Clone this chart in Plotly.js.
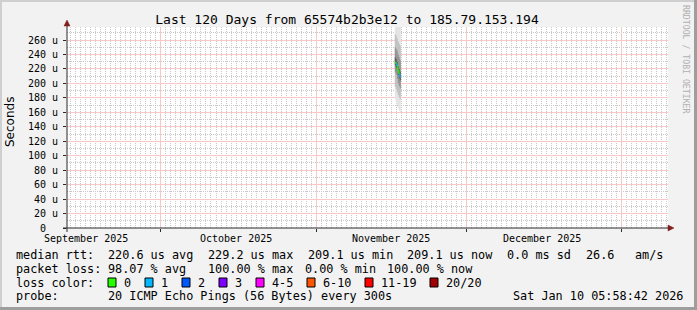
<!DOCTYPE html>
<html>
<head>
<meta charset="utf-8">
<script src="https://cdn.plot.ly/plotly-3.0.1.min.js"></script>
<style>
html,body{margin:0;padding:0;background:#f2f2f2;}
#chart{width:697px;height:310px;}
</style>
</head>
<body>
<div id="chart"></div>
<script>
// ---------------- data ----------------
const titleText = "Last 120 Days from 65574b2b3e12 to 185.79.153.194";
const rangeStart = "2025-09-12 05:58:42";
const rangeEnd = "2026-01-10 05:58:42";

const monthStarts = ["2025-10-01", "2025-11-01", "2025-12-01", "2026-01-01"];
const monthLabelDates = ["2025-09-16", "2025-10-16", "2025-11-16", "2025-12-16"];
const monthLabels = ["September 2025", "October 2025", "November 2025", "December 2025"];

const yTickVals = [0, 20, 40, 60, 80, 100, 120, 140, 160, 180, 200, 220, 240, 260];
const yTickText = ["0\u00a0\u00a0", "20 u", "40 u", "60 u", "80 u", "100 u", "120 u", "140 u", "160 u", "180 u", "200 u", "220 u", "240 u", "260 u"];

// sample edge times (last entry is the end of the last sample)
const sampleTimes = ["2025-11-16 16:48", "2025-11-16 21:36", "2025-11-17 02:24", "2025-11-17 07:12", "2025-11-17 12:00", "2025-11-17 16:48", "2025-11-17 21:36"];
// sorted ping values (microseconds) per sample
const pingMin = [178, 175, 170, 166, 162, 160];
const ping2   = [195, 192, 188, 184, 180, 178];
const ping5   = [215, 212, 206, 200, 196, 193];
const ping8   = [225, 222, 218, 212, 207, 204];
const ping13  = [236, 234, 230, 224, 220, 216];
const ping16  = [250, 248, 245, 240, 236, 232];
const ping19  = [268, 266, 262, 258, 255, 252];
const pingMax = [290, 292, 285, 282, 280, 278];
const medianRtt = [229.2, 228, 225, 218, 214, 209.1];
const lossCount = [0, 0, 1, 0, 0, 1];

const lossLabels = ["0", "1", "2", "3", "4-5", "6-10", "11-19", "20/20"];
const lossColors = ["#26ff00", "#00b8ff", "#0059ff", "#7e00ff", "#ff00ff", "#ff5500", "#ff0000", "#a10000"];

const row1 = ["median rtt:", "220.6 us avg", "229.2 us max", "209.1 us min", "209.1 us now", "0.0 ms sd", "26.6", "am/s"];
const row2 = ["packet loss:", "98.07 % avg", "100.00 % max", "0.00 % min", "100.00 % now"];
const row3Label = "loss color:";
const row4 = ["probe:", "20 ICMP Echo Pings (56 Bytes) every 300s", "Sat Jan 10 05:58:42 2026"];
const watermark = "RRDTOOL / TOBI OETIKER";

// ---------------- layout helpers ----------------
const L = 67, R = 668, T = 27, B = 228;
const X = px => (px - L) / (R - L);
const Y = py => (B - py) / (B - T);
const MONO = "DejaVu Sans Mono";

// ---------------- traces ----------------
const traces = [];
const ext = a => a.concat([a[a.length - 1]]);
const bands = [
  [pingMin, pingMax, "#e4e4e4"],
  [ping2, ping19, "#c2c2c2"],
  [ping5, ping16, "#969696"],
  [ping8, ping13, "#5e5e5e"]
];
bands.forEach(b => {
  traces.push({x: sampleTimes, y: ext(b[0]), mode: "lines", line: {width: 0, shape: "hv"}, hoverinfo: "skip"});
  traces.push({x: sampleTimes, y: ext(b[1]), mode: "lines", line: {width: 0, shape: "hv"}, fill: "tonexty", fillcolor: b[2], hoverinfo: "skip"});
});
function lossColor(n) {
  if (n <= 3) return lossColors[n];
  if (n <= 5) return lossColors[4];
  if (n <= 10) return lossColors[5];
  if (n <= 19) return lossColors[6];
  return lossColors[7];
}
for (let k = 0; k < medianRtt.length; k++) {
  const xs = [], ys = [];
  if (k > 0) { xs.push(sampleTimes[k]); ys.push(medianRtt[k - 1]); }
  xs.push(sampleTimes[k]); ys.push(medianRtt[k]);
  xs.push(sampleTimes[k + 1]); ys.push(medianRtt[k]);
  traces.push({x: xs, y: ys, mode: "lines", line: {color: lossColor(lossCount[k]), width: 1.2}, hoverinfo: "skip"});
}

// ---------------- annotations ----------------
const ann = [];
function txt(s, px, py, size, extra) {
  ann.push(Object.assign({
    text: s, xref: "paper", yref: "paper", x: X(px), y: Y(py),
    xanchor: "left", yanchor: "middle", showarrow: false,
    borderpad: 0, borderwidth: 0,
    font: {family: MONO, size: size, color: "#000"}
  }, extra || {}));
}
const LS = 11.8;
const row1X = [16, 108, 208, 308, 407, 507, 586, 635];
row1.forEach((s, i) => txt(s, row1X[i], 255, LS));
const row2X = [16, 108, 208, 305, 387];
row2.forEach((s, i) => txt(s, row2X[i], 269, LS));
txt(row3Label, 16, 283, LS);
const boxX = [108, 145, 182, 219, 256, 307, 365, 430];
const shapes = [];
lossLabels.forEach((s, i) => {
  txt(s, boxX[i] + 16, 283, LS);
  shapes.push({type: "rect", xref: "paper", yref: "paper", x0: X(boxX[i]), x1: X(boxX[i] + 8), y0: Y(287), y1: Y(278),
    fillcolor: lossColors[i], line: {color: "#000", width: 1}});
});
const row4X = [16, 108, 513];
row4.forEach((s, i) => txt(s, row4X[i], 296, LS));

monthLabels.forEach((s, i) => {
  ann.push({text: s, xref: "x", yref: "paper", x: monthLabelDates[i], y: Y(238), xanchor: "center", yanchor: "middle",
    showarrow: false, borderpad: 0, borderwidth: 0, font: {family: MONO, size: 10, color: "#000"}});
});
ann.push({text: "Seconds", xref: "paper", yref: "paper", x: X(10), y: Y(122), xanchor: "center", yanchor: "middle",
  textangle: -90, showarrow: false, borderpad: 0, borderwidth: 0, font: {family: "DejaVu Sans", size: 12, color: "#000"}});
ann.push({text: watermark, xref: "paper", yref: "paper", x: X(686), y: Y(59), xanchor: "center", yanchor: "middle",
  textangle: 90, showarrow: false, borderpad: 0, borderwidth: 0, font: {family: MONO, size: 8.2, color: "#b0b0b0"}});

// ---------------- frame shapes ----------------
shapes.push({type: "line", xref: "paper", yref: "paper", x0: X(63), x1: X(669), y0: Y(228), y1: Y(228), line: {color: "#2a2a2a", width: 1}});
shapes.push({type: "line", xref: "paper", yref: "paper", x0: X(67), x1: X(67), y0: Y(232), y1: Y(23), line: {color: "#2a2a2a", width: 1}});
shapes.push({type: "path", xref: "paper", yref: "paper",
  path: `M ${X(64)} ${Y(26)} L ${X(70)} ${Y(26)} L ${X(67)} ${Y(20)} Z`, fillcolor: "#801f1f", line: {color: "#801f1f", width: 0.5}});
shapes.push({type: "path", xref: "paper", yref: "paper",
  path: `M ${X(668)} ${Y(225)} L ${X(668)} ${Y(231)} L ${X(674)} ${Y(228)} Z`, fillcolor: "#801f1f", line: {color: "#801f1f", width: 0.5}});
shapes.push({type: "rect", xref: "paper", yref: "paper", x0: X(0), x1: X(697), y0: Y(0), y1: Y(2), fillcolor: "#cfcfcf", line: {width: 0}});
shapes.push({type: "rect", xref: "paper", yref: "paper", x0: X(0), x1: X(2), y0: Y(0), y1: Y(310), fillcolor: "#cfcfcf", line: {width: 0}});
shapes.push({type: "rect", xref: "paper", yref: "paper", x0: X(0), x1: X(697), y0: Y(307), y1: Y(310), fillcolor: "#9e9e9e", line: {width: 0}});
shapes.push({type: "rect", xref: "paper", yref: "paper", x0: X(694), x1: X(697), y0: Y(0), y1: Y(310), fillcolor: "#9e9e9e", line: {width: 0}});

const majorGrid = "rgb(247,200,200)";
const minorGrid = "rgb(200,200,200)";
const DOT = "1px,1px";
const layout = {
  width: 697, height: 310,
  paper_bgcolor: "#f2f2f2", plot_bgcolor: "#ffffff",
  margin: {l: L, r: 697 - R, t: T, b: 310 - B, pad: 0},
  showlegend: false,
  title: {text: titleText, font: {family: MONO, size: 13, color: "#000"},
    xref: "container", yref: "container", x: 347 / 697, y: 1 - 19 / 310, xanchor: "center", yanchor: "middle"},
  xaxis: {
    type: "date", range: [rangeStart, rangeEnd], fixedrange: true,
    tickmode: "array", tickvals: monthStarts, showticklabels: false,
    ticks: "outside", ticklen: 3, tickcolor: "#2a2a2a",
    showgrid: true, gridcolor: majorGrid, gridwidth: 1,
    minor: {tickmode: "linear", tick0: "2025-09-13", dtick: 86400000, showgrid: true,
      gridcolor: minorGrid, gridwidth: 1, griddash: DOT, ticks: ""},
    zeroline: false, showline: false
  },
  yaxis: {
    range: [0, 278], fixedrange: true,
    tickmode: "array", tickvals: yTickVals, ticktext: yTickText,
    tickfont: {family: MONO, size: 10, color: "#000"},
    ticks: "outside", ticklen: 3, tickcolor: "#2a2a2a", ticklabelstandoff: 3,
    showgrid: true, gridcolor: majorGrid, gridwidth: 1,
    minor: {tickmode: "linear", tick0: 10, dtick: 20, showgrid: true,
      gridcolor: minorGrid, gridwidth: 1, griddash: DOT, ticks: ""},
    zeroline: false, showline: false
  },
  annotations: ann,
  shapes: shapes
};

Plotly.newPlot("chart", traces, layout, {displayModeBar: false, staticPlot: true});
</script>
</body>
</html>
